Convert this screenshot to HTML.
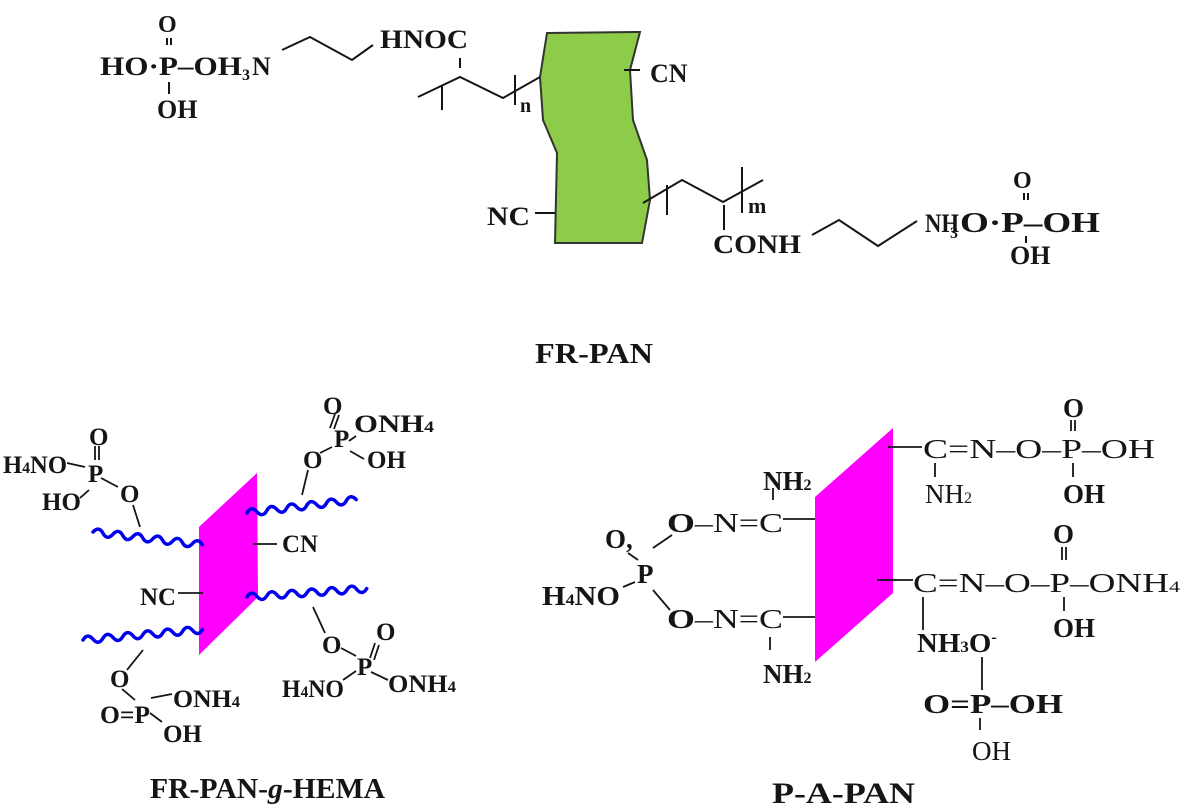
<!DOCTYPE html>
<html><head><style>
html,body{margin:0;padding:0;background:#fff;}
svg{display:block;}
text{font-family:"Liberation Serif",serif;fill:#151515;}
.b{font-weight:bold;font-size:26px;}
.r{font-size:27px;}
.s{font-size:16px;}
</style></head><body>
<svg width="1181" height="811" viewBox="0 0 1181 811" xmlns="http://www.w3.org/2000/svg">
<!-- ===== FR-PAN ===== -->
<path d="M547,33 L640,32 L630,70 L633,120 L647,160 L650,200 L642,243 L555,243 L557,153 L543,120 L540,77 Z" fill="#8dcc48" stroke="#333" stroke-width="2"/>
<g stroke="#151515" stroke-width="2" fill="none">
<line x1="167" y1="38" x2="167" y2="45"/><line x1="171" y1="38" x2="171" y2="45"/>
<line x1="169" y1="82" x2="169" y2="94"/>
<polyline points="282,50 310,37 352,60 373,45"/>
<line x1="460" y1="58" x2="460" y2="68"/>
<polyline points="418,97 460,77 503,98 540,77"/>
<line x1="442" y1="85" x2="442" y2="110"/><line x1="515" y1="75" x2="515" y2="105"/>
<line x1="624" y1="70" x2="640" y2="70"/>
<line x1="535" y1="213" x2="555" y2="213"/>
<polyline points="643,203 682,180 723,202 763,180"/>
<line x1="667" y1="185" x2="667" y2="215"/><line x1="742" y1="167" x2="742" y2="213"/>
<line x1="724" y1="205" x2="724" y2="230"/>
<polyline points="812,235 839,220 878,246 917,221"/>
<line x1="1024" y1="193" x2="1024" y2="200"/><line x1="1028" y1="193" x2="1028" y2="200"/>
<line x1="1026" y1="236" x2="1026" y2="243"/>
</g>
<g class="b">
<text x="158" y="32" style="font-size:24px">O</text>
<text x="100" y="75" textLength="142" lengthAdjust="spacingAndGlyphs">HO·P–OH</text>
<text x="242" y="80" class="s" style="font-weight:bold">3</text>
<text x="252" y="75">N</text>
<text x="157" y="118">OH</text>
<text x="380" y="48" textLength="88" lengthAdjust="spacingAndGlyphs">HNOC</text>
<text x="520" y="112" style="font-size:20px">n</text>
<text x="650" y="82">CN</text>
<text x="487" y="225" textLength="43" lengthAdjust="spacingAndGlyphs">NC</text>
<text x="748" y="213" style="font-size:22px">m</text>
<text x="713" y="253" textLength="88" lengthAdjust="spacingAndGlyphs">CONH</text>
<text x="925" y="232" textLength="34" lengthAdjust="spacingAndGlyphs">NH</text>
<text x="950" y="238" class="s" style="font-weight:bold">3</text>
<text x="960" y="232" style="font-size:28px" textLength="140" lengthAdjust="spacingAndGlyphs">O·P–OH</text>
<text x="1013" y="188" style="font-size:24px">O</text>
<text x="1010" y="264">OH</text>
<text x="535" y="363" style="font-size:28px" textLength="118" lengthAdjust="spacingAndGlyphs">FR-PAN</text>
<text x="150" y="798" style="font-size:28px" textLength="235" lengthAdjust="spacingAndGlyphs">FR-PAN-<tspan font-style="italic">g</tspan>-HEMA</text>
<text x="772" y="803" style="font-size:30px" textLength="143" lengthAdjust="spacingAndGlyphs">P-A-PAN</text>
</g>

<!-- ===== FR-PAN-g-HEMA ===== -->
<polygon points="199,527 257,473 258,597 199,655" fill="#ff00ff"/>
<g stroke="#0000ee" stroke-width="3.5" fill="none" stroke-linecap="round">
<path transform="translate(93,532) rotate(6.7)" d="M0 0 q5 -7 10 0 t10 0 t10 0 t10 0 t10 0 t10 0 t10 0 t10 0 t10 0 t10 0 t10 0"/>
<path transform="translate(247,513) rotate(-7)" d="M0 0 q5 -7 10 0 t10 0 t10 0 t10 0 t10 0 t10 0 t10 0 t10 0 t10 0 t10 0 t10 0"/>
<path transform="translate(247,597) rotate(-4)" d="M0 0 q5 -7 10 0 t10 0 t10 0 t10 0 t10 0 t10 0 t10 0 t10 0 t10 0 t10 0 t10 0 t10 0"/>
<path transform="translate(83,640) rotate(-5)" d="M0 0 q5 -7 10 0 t10 0 t10 0 t10 0 t10 0 t10 0 t10 0 t10 0 t10 0 t10 0 t10 0 t10 0"/>
</g>
<g stroke="#151515" stroke-width="1.8" fill="none">
<line x1="140" y1="527" x2="133" y2="505"/>
<line x1="302" y1="495" x2="308" y2="470"/>
<line x1="313" y1="607" x2="325" y2="633"/>
<line x1="143" y1="650" x2="127" y2="670"/>
<line x1="253" y1="544" x2="277" y2="544"/>
<line x1="178" y1="593" x2="203" y2="593"/>
<line x1="67" y1="463" x2="85" y2="467"/><line x1="101" y1="478" x2="118" y2="487"/>
<line x1="95" y1="446" x2="95" y2="460"/><line x1="99" y1="446" x2="99" y2="460"/>
<line x1="80" y1="498" x2="89" y2="490"/>
<line x1="320" y1="453" x2="332" y2="447"/><line x1="349" y1="441" x2="356" y2="436"/><line x1="350" y1="451" x2="364" y2="459"/>
<line x1="330" y1="428" x2="335" y2="414"/><line x1="334" y1="429" x2="339" y2="415"/>
<line x1="341" y1="648" x2="356" y2="656"/><line x1="370" y1="658" x2="375" y2="643"/><line x1="374" y1="660" x2="379" y2="645"/>
<line x1="371" y1="672" x2="388" y2="680"/><line x1="343" y1="680" x2="356" y2="671"/>
<line x1="122" y1="689" x2="135" y2="700"/><line x1="151" y1="698" x2="172" y2="694"/><line x1="150" y1="713" x2="162" y2="722"/>
</g>
<g style="font-size:25px;font-weight:bold">
<text x="3" y="473" textLength="64" lengthAdjust="spacingAndGlyphs">H<tspan class="s">4</tspan>NO</text>
<text x="88" y="482">P</text>
<text x="89" y="445">O</text>
<text x="42" y="510">HO</text>
<text x="120" y="502">O</text>
<text x="282" y="552" textLength="36" lengthAdjust="spacingAndGlyphs">CN</text>
<text x="140" y="605" textLength="36" lengthAdjust="spacingAndGlyphs">NC</text>
<text x="303" y="468">O</text>
<text x="334" y="447">P</text>
<text x="354" y="432" textLength="80" lengthAdjust="spacingAndGlyphs">ONH<tspan class="s">4</tspan></text>
<text x="367" y="468">OH</text>
<text x="323" y="414">O</text>
<text x="322" y="653">O</text>
<text x="376" y="640">O</text>
<text x="357" y="675">P</text>
<text x="282" y="697" textLength="62" lengthAdjust="spacingAndGlyphs">H<tspan class="s">4</tspan>NO</text>
<text x="388" y="692" textLength="68" lengthAdjust="spacingAndGlyphs">ONH<tspan class="s">4</tspan></text>
<text x="110" y="687">O</text>
<text x="100" y="723" textLength="50" lengthAdjust="spacingAndGlyphs">O=P</text>
<text x="173" y="707" textLength="67" lengthAdjust="spacingAndGlyphs">ONH<tspan class="s">4</tspan></text>
<text x="163" y="742">OH</text>
</g>

<!-- ===== P-A-PAN ===== -->
<polygon points="815,497 893,428 893,593 815,662" fill="#ff00ff"/>
<g stroke="#151515" stroke-width="1.8" fill="none">
<line x1="888" y1="447" x2="922" y2="447"/>
<line x1="935" y1="463" x2="935" y2="477"/>
<line x1="1073" y1="463" x2="1073" y2="477"/>
<line x1="1071" y1="420" x2="1071" y2="431"/><line x1="1075" y1="420" x2="1075" y2="431"/>
<line x1="773" y1="488" x2="773" y2="500"/>
<line x1="783" y1="519" x2="815" y2="519"/>
<line x1="783" y1="617" x2="815" y2="617"/>
<line x1="770" y1="637" x2="770" y2="650"/>
<line x1="653" y1="548" x2="672" y2="535"/>
<line x1="653" y1="590" x2="670" y2="610"/>
<line x1="623" y1="587" x2="635" y2="582"/>
<line x1="628" y1="553" x2="638" y2="560"/>
<line x1="877" y1="580" x2="913" y2="580"/>
<line x1="923" y1="597" x2="923" y2="630"/>
<line x1="1062" y1="547" x2="1062" y2="560"/><line x1="1066" y1="547" x2="1066" y2="560"/>
<line x1="1064" y1="597" x2="1064" y2="611"/>
<line x1="982" y1="657" x2="982" y2="690"/>
<line x1="980" y1="718" x2="980" y2="730"/>
</g>
<g class="r">
<text x="923" y="458" textLength="232" lengthAdjust="spacingAndGlyphs">C=N–O–P–OH</text>
<text x="925" y="503">NH<tspan class="s">2</tspan></text>
<text x="1063" y="503" style="font-weight:bold">OH</text>
<text x="1063" y="417" style="font-weight:bold">O</text>
<text x="763" y="490" style="font-weight:bold">NH<tspan class="s">2</tspan></text>
<text x="667" y="532" textLength="116" lengthAdjust="spacingAndGlyphs"><tspan font-weight="bold">O</tspan>–N=C</text>
<text x="605" y="548" style="font-weight:bold">O,</text>
<text x="637" y="583" style="font-weight:bold">P</text>
<text x="542" y="605" style="font-weight:bold" textLength="78" lengthAdjust="spacingAndGlyphs">H<tspan class="s">4</tspan>NO</text>
<text x="667" y="628" textLength="116" lengthAdjust="spacingAndGlyphs"><tspan font-weight="bold">O</tspan>–N=C</text>
<text x="763" y="683" style="font-weight:bold">NH<tspan class="s">2</tspan></text>
<text x="913" y="592" textLength="267" lengthAdjust="spacingAndGlyphs">C=N–O–P–ONH<tspan class="s">4</tspan></text>
<text x="1053" y="543" style="font-weight:bold">O</text>
<text x="1053" y="637" style="font-weight:bold">OH</text>
<text x="917" y="652" style="font-weight:bold" textLength="80" lengthAdjust="spacingAndGlyphs">NH<tspan class="s">3</tspan>O<tspan class="s" dy="-10">-</tspan></text>
<text x="923" y="713" style="font-weight:bold" textLength="140" lengthAdjust="spacingAndGlyphs">O=P–OH</text>
<text x="972" y="760">OH</text>
</g>
</svg>
</body></html>
